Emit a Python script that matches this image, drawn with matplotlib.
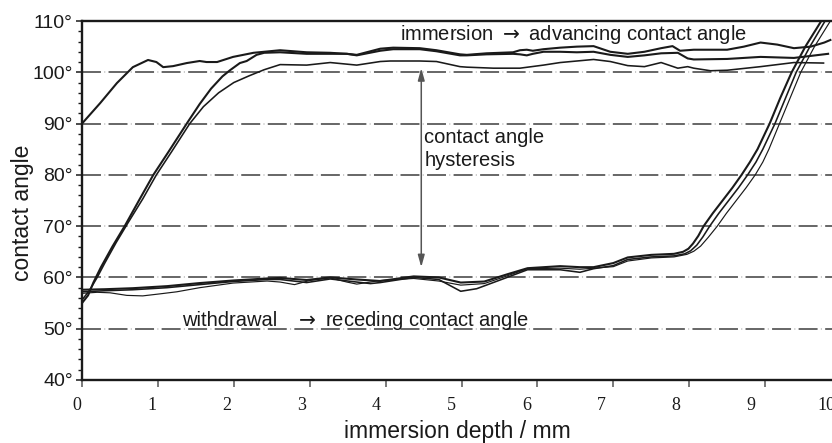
import matplotlib
matplotlib.use("Agg")
import matplotlib.pyplot as plt
from matplotlib.transforms import ScaledTranslation

plt.rcParams['font.family'] = ['Liberation Sans', 'DejaVu Sans']

# ---- measured contact angle traces (immersion depth in mm, angle in degrees) ----
# advancing branches (immersion)
adv1_x = [0, 0.24, 0.46, 0.67, 0.87, 0.98, 1.07, 1.2, 1.38, 1.55, 1.64, 1.78, 1.99, 2.26, 2.61,
          2.96, 3.27, 3.49, 3.62, 3.93, 4.1, 4.45, 4.67, 4.98, 5.07, 5.33, 5.68, 5.77, 5.86, 5.94,
          6.08, 6.3, 6.52, 6.74, 6.96, 7.19, 7.41, 7.63, 7.78, 7.88, 8.06, 8.28, 8.5, 8.72, 8.94,
          9.16, 9.38, 9.6, 9.78, 9.86]
adv1_y = [90.0, 94.0, 97.9, 101.0, 102.4, 102.0, 101.0, 101.2, 101.8, 102.2, 102.0, 102.0, 103.0,
          103.8, 104.3, 103.9, 103.8, 103.6, 103.4, 104.6, 104.8, 104.7, 104.3, 103.5, 103.4, 103.7,
          103.9, 104.3, 104.4, 104.2, 104.5, 104.8, 105.0, 105.1, 104.0, 103.6, 104.0, 104.7, 105.1,
          104.2, 104.4, 104.4, 104.4, 105.0, 105.8, 105.4, 104.7, 105.0, 105.8, 106.3]

adv2_x = [0, 0.08, 0.15, 0.25, 0.4, 0.57, 0.75, 0.94, 1.14, 1.38, 1.55, 1.7, 1.85, 1.95, 2.08,
          2.17, 2.3, 2.4, 2.61, 2.96, 3.27, 3.49, 3.62, 3.93, 4.1, 4.45, 4.67, 4.98, 5.07, 5.33,
          5.68, 5.77, 5.86, 5.94, 6.08, 6.3, 6.52, 6.74, 6.96, 7.19, 7.41, 7.63, 7.85, 7.98, 8.06,
          8.5, 8.94, 9.38, 9.83]
adv2_y = [55.0, 56.5, 59.0, 62.0, 66.0, 70.2, 75.0, 80.0, 84.5, 90.0, 93.8, 96.8, 99.2, 100.4,
          101.8, 102.2, 103.4, 103.8, 103.9, 103.6, 103.6, 103.6, 103.3, 104.2, 104.5, 104.5, 104.1,
          103.3, 103.3, 103.5, 103.6, 103.5, 103.3, 103.6, 104.0, 104.0, 103.9, 104.0, 103.4, 103.0,
          103.3, 103.7, 103.8, 102.7, 102.5, 102.6, 103.0, 102.8, 103.6]

adv3_x = [0, 0.1, 0.2, 0.3, 0.45, 0.6, 0.8, 0.98, 1.18, 1.42, 1.6, 1.8, 2.0, 2.2, 2.4, 2.61,
          2.96, 3.27, 3.62, 3.93, 4.06, 4.45, 4.67, 4.98, 5.07, 5.42, 5.77, 6.08, 6.3, 6.74, 6.96,
          7.19, 7.41, 7.63, 7.85, 7.98, 8.06, 8.28, 8.5, 8.94, 9.38, 9.77]
adv3_y = [55.6, 57.5, 60.0, 62.8, 66.8, 70.5, 75.3, 80.0, 84.5, 90.0, 93.3, 96.0, 98.0, 99.3,
          100.5, 101.5, 101.4, 101.9, 101.4, 102.1, 102.2, 102.2, 102.1, 101.1, 101.0, 100.8, 100.8,
          101.4, 101.9, 102.5, 102.1, 101.3, 101.1, 101.9, 100.8, 101.1, 100.8, 100.3, 100.4, 101.1,
          101.9, 101.8]

# receding branches (withdrawal)
rec1_x = [0, 0.3, 0.67, 1.12, 1.55, 1.99, 2.44, 2.61, 2.96, 3.27, 3.62, 3.93, 4.37, 4.7, 4.99,
          5.3, 5.6, 5.87, 6.3, 6.56, 6.74, 7.0, 7.19, 7.5, 7.8, 7.92, 7.99, 8.05, 8.12, 8.19, 8.31,
          8.44, 8.57, 8.69, 8.8, 8.9, 8.98, 9.06, 9.2, 9.35, 9.53, 9.74, 9.79]
rec1_y = [57.6, 57.7, 57.9, 58.3, 58.9, 59.4, 59.8, 59.9, 59.5, 60.0, 59.6, 59.3, 60.2, 60.0, 59.0,
          59.2, 60.6, 61.8, 62.2, 62.0, 62.0, 62.8, 63.9, 64.4, 64.6, 65.0, 65.6, 66.6, 68.1, 70.0,
          72.5, 75.0, 77.5, 80.0, 82.5, 85.0, 87.5, 90.0, 95.0, 100.0, 105.0, 110.0, 111.0]

rec2_x = [0, 0.3, 0.67, 1.12, 1.55, 1.99, 2.44, 2.61, 2.96, 3.27, 3.62, 3.8, 3.93, 4.37, 4.7,
          4.99, 5.2, 5.6, 5.87, 6.3, 6.56, 6.74, 7.0, 7.19, 7.5, 7.8, 7.94, 8.02, 8.1, 8.18, 8.27,
          8.39, 8.52, 8.65, 8.77, 8.88, 8.97, 9.05, 9.13, 9.27, 9.41, 9.59, 9.79, 9.84]
rec2_y = [57.2, 57.4, 57.6, 58.0, 58.6, 59.2, 59.6, 59.6, 59.0, 59.7, 59.1, 58.8, 59.0, 60.0, 59.6,
          57.3, 57.8, 60.0, 61.5, 61.5, 61.0, 61.7, 62.3, 63.5, 64.0, 64.2, 64.6, 65.2, 66.3, 67.9,
          70.0, 72.5, 75.0, 77.5, 80.0, 82.5, 85.0, 87.5, 90.0, 95.0, 100.0, 105.0, 110.0, 111.0]

rec3_x = [0, 0.2, 0.37, 0.59, 0.8, 1.03, 1.25, 1.55, 1.99, 2.44, 2.61, 2.8, 3.0, 3.27, 3.49,
          3.62, 3.93, 4.37, 4.7, 4.99, 5.3, 5.6, 5.87, 6.3, 6.56, 6.74, 7.0, 7.19, 7.5, 7.8, 7.97,
          8.06, 8.15, 8.25, 8.37, 8.49, 8.62, 8.75, 8.87, 8.97, 9.05, 9.12, 9.19, 9.33, 9.47, 9.65,
          9.86, 9.9]
rec3_y = [56.9, 57.1, 57.0, 56.5, 56.4, 56.8, 57.2, 58.0, 58.9, 59.3, 59.1, 58.6, 59.4, 59.9, 59.1,
          58.7, 59.4, 59.8, 59.3, 58.5, 58.8, 60.3, 61.7, 61.8, 61.6, 61.8, 62.1, 63.2, 63.8, 64.0,
          64.5, 65.1, 66.1, 67.8, 70.0, 72.5, 75.0, 77.5, 80.0, 82.5, 85.0, 87.5, 90.0, 95.0, 100.0,
          105.0, 110.0, 111.0]

# axis ticks and labels
x_ticks = list(range(0, 11))
x_tick_labels = [str(v) for v in x_ticks]
y_ticks = [40, 50, 60, 70, 80, 90, 100, 110]
y_tick_labels = ["40°", "50°", "60°", "70°", "80°", "90°", "100°", "110°"]
grid_levels = [50, 60, 70, 80, 90, 100]

# hysteresis arrow end points (mm, degrees)
hyst_x = 4.47
hyst_top = 100.8
hyst_bottom = 62.0

INK = "#1a1a1a"
ARROW = r"$\rightarrow$"

fig = plt.figure(figsize=(8.32, 4.43), dpi=100)
ax = fig.add_axes([82 / 832, 63 / 443, 759 / 832, 359 / 443])
ax.set_xlim(0, 10)
ax.set_ylim(40, 110)

# dashed grid with a faint dot inside each gap
for lvl in grid_levels:
    ax.axhline(lvl, color="#5a5a5a", lw=1.3, linestyle=(0, (10.5, 4.2)), zorder=1)
    ax.axhline(lvl, color="#c4c4c4", lw=1.3, linestyle=(2.4, (0.6, 14.1)), zorder=1)

thick, mid, thin = 1.5, 1.15, 0.85
ax.plot(adv1_x, adv1_y, color=INK, lw=thick, solid_joinstyle="round", zorder=3)
ax.plot(adv2_x, adv2_y, color=INK, lw=thick, solid_joinstyle="round", zorder=3)
ax.plot(adv3_x, adv3_y, color=INK, lw=mid, solid_joinstyle="round", zorder=3)
ax.plot(rec1_x, rec1_y, color=INK, lw=thick, solid_joinstyle="round", zorder=3)
ax.plot(rec2_x, rec2_y, color=INK, lw=mid, solid_joinstyle="round", zorder=3)
ax.plot(rec3_x, rec3_y, color=INK, lw=thin, solid_joinstyle="round", zorder=3)

# hysteresis arrow and annotations
ax.annotate("", xy=(hyst_x, hyst_bottom), xytext=(hyst_x, hyst_top),
            arrowprops=dict(arrowstyle="<|-|>,head_length=0.72,head_width=0.2",
                            color="#555555", lw=1.1, shrinkA=0, shrinkB=0), zorder=4)
ax.text(4.51, 86.3, "contact angle", fontsize=14.5, color=INK, ha="left", va="baseline")
ax.text(4.51, 81.7, "hysteresis", fontsize=14.5, color=INK, ha="left", va="baseline")
ax.text(4.19, 106.2, "immersion " + ARROW + " advancing contact angle", fontsize=14.5,
        color=INK, ha="left", va="baseline")
ax.text(1.32, 50.55, "withdrawal", fontsize=14.5, color=INK, ha="left", va="baseline")
ax.text(2.8, 50.55, ARROW + " receding contact angle", fontsize=14.5, color=INK,
        ha="left", va="baseline")

# axes frame
for side in ("left", "bottom", "top", "right"):
    ax.spines[side].set_linewidth(1.7)
    ax.spines[side].set_color(INK)
    ax.spines[side].set_zorder(5)

ax.set_yticks(y_ticks)
ax.set_yticklabels(y_tick_labels, fontsize=14, color=INK)
ax.set_yticks([v for v in range(40, 111, 2) if v % 10], minor=True)
ax.tick_params(axis="y", which="major", direction="out", length=4.5, width=1.1,
               color=INK, pad=2.2)
ax.tick_params(axis="y", which="minor", direction="out", length=3.0, width=1.0, color=INK)

ax.set_xticks(x_ticks)
ax.set_xticklabels(x_tick_labels, fontsize=13, family="Liberation Serif", color=INK)
ax.tick_params(axis="x", which="major", direction="out", length=5, width=1.1,
               color="#555555", pad=7)
for i, tick in enumerate(ax.xaxis.get_major_ticks()):
    shift = ScaledTranslation(-(5 + 1.0 * i) / 100, 0, fig.dpi_scale_trans)
    tick.label1.set_transform(tick.label1.get_transform() + shift)

ax.set_xlabel("immersion depth / mm", fontsize=16.5, color=INK, va="baseline")
ax.xaxis.set_label_coords(0.494, -0.161)
ax.set_ylabel("contact angle", fontsize=16.5, color=INK, va="center")
ax.yaxis.set_label_coords(-0.078, 0.465)

fig.savefig("out.png", dpi=100)
